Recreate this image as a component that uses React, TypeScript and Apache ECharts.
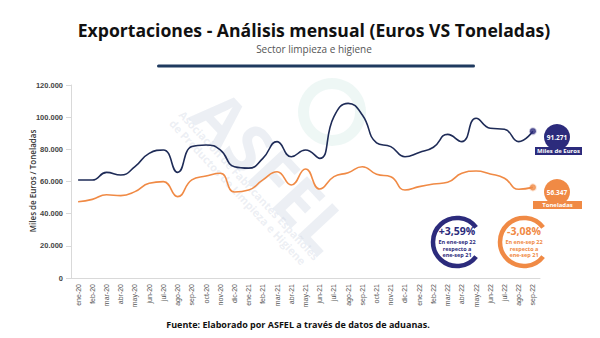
import React, { useEffect, useRef } from "react";
import * as echarts from "echarts";

const categories = [
  "ene-20","feb-20","mar-20","abr-20","may-20","jun-20","jul-20","ago-20","sep-20","oct-20","nov-20","dic-20",
  "ene-21","feb-21","mar-21","abr-21","may-21","jun-21","jul-21","ago-21","sep-21","oct-21","nov-21","dic-21",
  "ene-22","feb-22","mar-22","abr-22","may-22","jun-22","jul-22","ago-22","sep-22",
];
const euros = [
  60900, 60900, 65700, 64000, 69200, 77500, 79600, 65700, 81700, 82700, 79600, 69200,
  68300, 74400, 84800, 75400, 79600, 74400, 100300, 108600, 101400, 84000, 81700, 75400,
  78100, 81300, 89300, 84800, 99300, 93100, 92500, 84800, 91271,
];
const toneladas = [
  47400, 48900, 51800, 51200, 53700, 58900, 59900, 50600, 61000, 63400, 65100, 53500,
  54700, 61000, 66100, 57800, 67800, 55300, 63000, 65500, 69200, 64500, 63000, 54700,
  56800, 58400, 59500, 65100, 66500, 64700, 62000, 55200, 56347,
];
const yTicks = [0, 20000, 40000, 60000, 80000, 100000, 120000];
const eurosChange = "+3,59%";
const tonChange = "-3,08%";
const changeLines = ["En ene-sep 22", "respecto a", "ene-sep 21"];

const NAVY = "#1e2b57";
const INDIGO = "#2c2b7c";
const ORANGE = "#f08a45";
const FONT = "'Open Sans', 'Noto Sans', sans-serif";

const fmt = (v: number) => String(Math.round(v)).replace(/\B(?=(\d{3})+(?!\d))/g, ".");

export default function App() {
  const ref = useRef<HTMLDivElement>(null);
  useEffect(() => {
    if (!ref.current) return;
    const chart = echarts.init(ref.current, undefined, { renderer: "svg" });
    const last = euros.length - 1;
    const lastOnly = (arr: number[]) => arr.map((v, i) => (i === last ? v : "-"));

    const ring = (cx: number, cy: number, color: string, big: string) => [
      {
        type: "arc",
        shape: { cx, cy, r: 24, startAngle: 0.65, endAngle: Math.PI * 2 - 0.65, clockwise: true },
        style: { stroke: color, lineWidth: 4.5, fill: "none" },
      },
      {
        type: "text",
        x: cx, y: cy - 11,
        style: { text: big, fill: color, font: `bold 10.5px ${FONT}`, align: "center", verticalAlign: "middle" },
      },
      ...changeLines.map((t, k) => ({
        type: "text",
        x: cx, y: cy + k * 6.5,
        style: { text: t, fill: color, font: `bold 5.5px ${FONT}`, align: "center", verticalAlign: "middle" },
      })),
    ];

    const wm = "rgba(198,206,222,0.33)";

    chart.setOption({
      animation: false,
      grid: { left: 71, right: 60, top: 85, bottom: 60 },
      xAxis: {
        type: "category",
        data: categories,
        boundaryGap: true,
        axisLine: { lineStyle: { color: "#d9d9d9" } },
        axisTick: { lineStyle: { color: "#d9d9d9" } },
        axisLabel: { rotate: 90, interval: 0, fontSize: 7, color: "#555", fontFamily: "'Liberation Sans', Arial, sans-serif", margin: 6 },
      },
      yAxis: {
        type: "value",
        min: 0, max: 120000, interval: 20000,
        splitLine: { show: false },
        axisLine: { show: true, lineStyle: { color: "#d9d9d9" } },
        axisTick: { show: true, lineStyle: { color: "#d9d9d9" } },
        axisLabel: {
          fontSize: 7.5, color: "#444", fontWeight: "bold", fontFamily: "'Liberation Sans', Arial, sans-serif",
          formatter: (v: number) => (yTicks.includes(v) ? fmt(v) : ""),
        },
      },
      series: [
        {
          type: "line", name: "Miles de Euros", data: euros, smooth: 0.5, showSymbol: false,
          lineStyle: { color: NAVY, width: 1.6 }, itemStyle: { color: NAVY }, z: 3,
        },
        {
          type: "line", name: "Toneladas", data: toneladas, smooth: 0.5, showSymbol: false,
          lineStyle: { color: ORANGE, width: 1.6 }, itemStyle: { color: ORANGE }, z: 3,
        },
        {
          type: "scatter", data: lastOnly(euros), symbolSize: 6,
          itemStyle: { color: INDIGO, borderColor: "rgba(44,43,124,0.3)", borderWidth: 2 }, z: 4,
        },
        {
          type: "scatter", data: lastOnly(toneladas), symbolSize: 6,
          itemStyle: { color: ORANGE, borderColor: "rgba(240,138,69,0.3)", borderWidth: 2 }, z: 4,
        },
      ],
      graphic: [
        // watermark
        {
          type: "ring", shape: { cx: 332, cy: 112, r: 34, r0: 23 }, z: 0, silent: true,
          style: { fill: "rgba(200,228,222,0.3)" },
        },
        {
          type: "text", x: 207, y: 100, rotation: -0.82, z: 0, silent: true,
          style: { text: "ASFEL", fill: wm, font: `bold 66px ${FONT}`, verticalAlign: "middle" },
        },
        {
          type: "text", x: 186, y: 108, rotation: -0.82, z: 0, silent: true,
          style: { text: "Asociación de Fabricantes Españoles\nde Productos de Limpieza e Higiene", fill: wm, font: `bold 11px ${FONT}`, lineHeight: 13, verticalAlign: "top" },
        },
        // y-axis title
        {
          type: "text", x: 32, y: 181, rotation: Math.PI / 2,
          style: { text: "Miles de Euros / Toneladas", fill: "#333", font: `600 8px ${FONT}`, align: "center", verticalAlign: "middle" },
        },
        // title
        {
          type: "text", x: 314, y: 30,
          style: { text: "Exportaciones - Análisis mensual (Euros VS Toneladas)", fill: "#111", font: `bold 17.6px ${FONT}`, align: "center", verticalAlign: "middle" },
        },
        {
          type: "text", x: 314, y: 49,
          style: { text: "Sector limpieza e higiene", fill: "#555", font: `10px ${FONT}`, align: "center", verticalAlign: "middle" },
        },
        {
          type: "rect", shape: { x: 157, y: 64.5, width: 318, height: 3, r: 1.5 },
          style: { fill: "#1f3a5f" },
        },
        // end labels
        { type: "circle", shape: { cx: 557, cy: 137, r: 13 }, style: { fill: INDIGO } },
        {
          type: "text", x: 557, y: 137,
          style: { text: fmt(euros[last]), fill: "#fff", font: `bold 6.5px ${FONT}`, align: "center", verticalAlign: "middle" },
        },
        { type: "rect", shape: { x: 535, y: 147, width: 47, height: 8 }, style: { fill: INDIGO } },
        {
          type: "text", x: 558.5, y: 151,
          style: { text: "Miles de Euros", fill: "#fff", font: `bold 6px ${FONT}`, align: "center", verticalAlign: "middle" },
        },
        { type: "circle", shape: { cx: 557, cy: 192, r: 13 }, style: { fill: ORANGE } },
        {
          type: "text", x: 557, y: 192,
          style: { text: fmt(toneladas[last]), fill: "#fff", font: `bold 6.5px ${FONT}`, align: "center", verticalAlign: "middle" },
        },
        { type: "rect", shape: { x: 533, y: 201, width: 49, height: 8 }, style: { fill: ORANGE } },
        {
          type: "text", x: 557.5, y: 205,
          style: { text: "Toneladas", fill: "#fff", font: `bold 6px ${FONT}`, align: "center", verticalAlign: "middle" },
        },
        ...ring(457, 242, INDIGO, eurosChange),
        ...ring(524, 242, ORANGE, tonChange),
        // footer
        {
          type: "text", x: 298, y: 324,
          style: { text: "Fuente: Elaborado por ASFEL a través de datos de aduanas.", fill: "#111", font: `bold 9px ${FONT}`, align: "center", verticalAlign: "middle" },
        },
      ],
    });
    return () => chart.dispose();
  }, []);
  return <div ref={ref} style={{ width: 600, height: 338, position: "absolute", left: 0, top: 0 }} />;
}
